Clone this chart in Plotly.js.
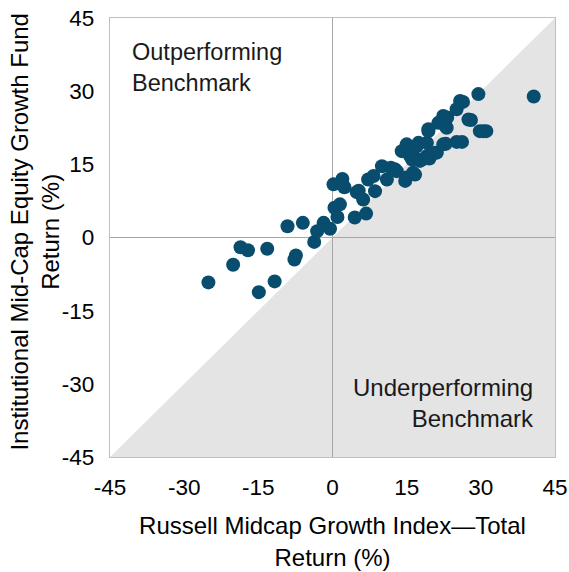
<!DOCTYPE html>
<html>
<head>
<meta charset="utf-8">
<script src="https://cdn.plot.ly/plotly-3.0.1.min.js"></script>
<style>html,body{margin:0;padding:0;background:#fff;}#chart{width:569px;height:572px;}</style>
</head>
<body>
<div id="chart"></div>
<script>
const indexReturn = [-25.1,-20.1,-18.6,-17.1,-13.2,-14.9,-11.7,-7.7,-7.4,-9.1,-6.0,-3.7,-3.1,-1.8,-0.5,0.4,1.5,1.0,0.2,2.0,2.4,4.5,6.8,4.9,6.2,5.3,7.2,8.3,8.6,10.0,11.0,11.8,13.0,12.6,14.7,14.9,16.3,16.7,14.0,15.0,16.3,15.7,16.1,17.4,17.0,17.7,18.1,19.1,19.6,19.7,19.1,19.4,19.4,20.7,21.1,22.4,22.9,21.4,22.8,23.1,23.2,22.4,25.1,25.8,26.4,27.5,28.0,25.1,26.2,29.5,29.8,30.5,31.1,40.7];
const fundReturn  = [-9.2,-5.6,-2.0,-2.6,-2.3,-11.2,-9.0,-4.5,-3.7,2.3,3.0,-0.9,1.3,3.0,1.8,6.1,6.8,4.2,10.9,12.0,10.3,4.1,4.9,9.3,7.8,9.6,11.9,12.6,9.5,14.6,11.9,14.3,13.6,14.0,11.6,12.3,13.3,12.9,17.7,19.1,16.7,16.7,16.0,19.4,18.7,15.7,16.0,16.7,16.2,17.0,19.4,21.8,22.2,17.4,17.4,19.1,19.2,23.5,22.9,22.5,24.6,24.9,26.3,28.0,27.8,24.2,24.1,19.6,19.6,29.4,21.8,21.8,21.8,28.9];
const axisTicks = [-45,-30,-15,0,15,30,45];
const regionLabels = ["Outperforming<br>Benchmark","Underperforming<br>Benchmark"];
const xTitle = 'Russell Midcap Growth Index—Total<br>Return (%)';
const yTitle = 'Institutional Mid-Cap Equity Growth Fund<br>Return (%)';

const font = "Liberation Sans, Arial, sans-serif";
const trace = {
  x: indexReturn, y: fundReturn, type: 'scatter', mode: 'markers',
  marker: {color: '#084c6e', size: 14, line: {width: 0}},
  hoverinfo: 'x+y', showlegend: false
};
const axisCommon = {
  range: [-45, 45], tickvals: axisTicks, ticktext: axisTicks.map(String),
  showgrid: false, zeroline: true, zerolinecolor: '#a6a6a6', zerolinewidth: 1.3,
  showline: true, linecolor: '#bfbfbf', linewidth: 1.3, mirror: true,
  ticks: '', ticklabelstandoff: 10,
  tickfont: {family: font, size: 22.5, color: '#000'},
  fixedrange: true
};
const layout = {
  width: 569, height: 572,
  margin: {l: 110, r: 14, t: 18, b: 115},
  paper_bgcolor: '#fff', plot_bgcolor: '#fff',
  xaxis: Object.assign({}, axisCommon, {
    title: {text: xTitle, font: {family: font, size: 24, color: '#000'}, standoff: 18}
  }),
  yaxis: Object.assign({}, axisCommon),
  shapes: [{
    type: 'path', xref: 'x', yref: 'y', layer: 'below',
    path: 'M -45 -45 L 45 45 L 45 -45 Z',
    fillcolor: '#e4e4e4', line: {width: 0}
  }],
  annotations: [
    {text: regionLabels[0], xref: 'paper', yref: 'paper', x: 0.045, y: 0.957, xanchor: 'left', yanchor: 'top', align: 'left', showarrow: false, font: {family: font, size: 23.5, color: '#1a1a1a'}},
    {text: regionLabels[1], xref: 'paper', yref: 'paper', x: 0.958, y: 0.194, xanchor: 'right', yanchor: 'top', align: 'right', showarrow: false, font: {family: font, size: 24, color: '#1a1a1a'}},
    {text: yTitle, xref: 'paper', yref: 'paper', x: -0.168, y: 0.514, xanchor: 'center', yanchor: 'middle', textangle: -90, showarrow: false, align: 'center', font: {family: font, size: 24, color: '#000'}}
  ]
};
Plotly.newPlot('chart', [trace], layout, {displayModeBar: false, staticPlot: true});
</script>
</body>
</html>
